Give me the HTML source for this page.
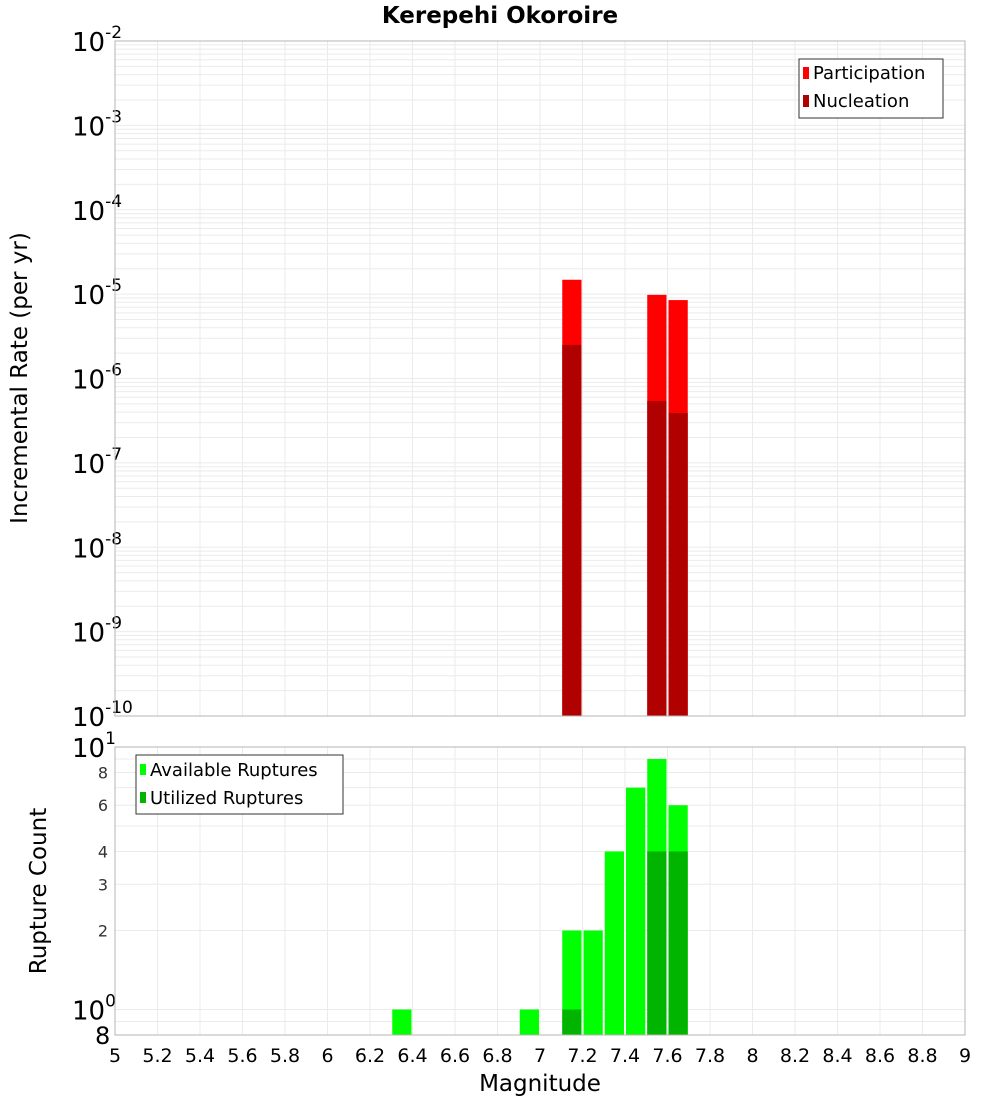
<!DOCTYPE html>
<html><head><meta charset="utf-8"><style>
body{margin:0;background:#fff;font-family:"DejaVu Sans","Liberation Sans",sans-serif;}
svg text{font-family:"DejaVu Sans","Liberation Sans",sans-serif;}
</style></head><body>
<svg id="chart" width="1000" height="1100" xmlns="http://www.w3.org/2000/svg">
<text x="500" y="23" text-anchor="middle" font-size="23" font-weight="bold">Kerepehi Okoroire</text>
<text transform="translate(27,378) rotate(-90)" text-anchor="middle" font-size="23">Incremental Rate (per yr)</text>
<text transform="translate(46,891) rotate(-90)" text-anchor="middle" font-size="23">Rupture Count</text>
<text x="540" y="1091" text-anchor="middle" font-size="23">Magnitude</text>
<g id="topPlot"></g><g id="botPlot"></g>
</svg>
<script>
const mags = [6.3, 6.9, 7.1, 7.2, 7.3, 7.4, 7.5, 7.6];
const partMags = [7.1, 7.5, 7.6];
const participation = [1.48e-5, 9.8e-6, 8.5e-6];
const nucleation = [2.5e-6, 5.4e-7, 3.9e-7];
const available = [1, 1, 2, 2, 4, 7, 9, 6];
const utilMags = [7.1, 7.5, 7.6];
const utilized = [1, 4, 4];
const xTicks = [5,5.2,5.4,5.6,5.8,6,6.2,6.4,6.6,6.8,7,7.2,7.4,7.6,7.8,8,8.2,8.4,8.6,8.8,9];
const topExps = [-2,-3,-4,-5,-6,-7,-8,-9,-10];
const botTicks = [8,6,4,3,2];

const NS="http://www.w3.org/2000/svg";
const X0=115,X1=965;
const x=m=>X0+(m-5)/4*(X1-X0);
const T0=41,T1=716;
const yT=v=>T0+(-2-Math.log10(v))/8*(T1-T0);
const B0=747,B1=1035;
const yB=v=>B0+(1-Math.log10(v))*(1009.5-B0);
function el(p,tag,a,txt){const e=document.createElementNS(NS,tag);for(const k in a)e.setAttribute(k,a[k]);if(txt!=null)e.textContent=txt;p.appendChild(e);return e;}
const topG=document.getElementById('topPlot'),botG=document.getElementById('botPlot');

for(let d=-10;d<-2;d++)for(let k=1;k<10;k++){const yy=yT(k*Math.pow(10,d));
 const g=el(topG,'line',{x1:X0,x2:X1,y1:yy,y2:yy,stroke:'#ebebeb','stroke-width':1});
 
 }
xTicks.forEach(t=>{const l=el(topG,'line',{x1:x(t),x2:x(t),y1:T0,y2:T1,stroke:'#ebebeb'});
 
 });
topExps.forEach(e=>{const yy=yT(Math.pow(10,e));
 const t=el(topG,'text',{x:72,y:yy+10,'font-size':26});
 
 
 el(t,'tspan',{},'10');el(t,'tspan',{dy:-13,'font-size':17},String(e));});
partMags.forEach((m,i)=>{
 const r=el(topG,'rect',{x:x(m)+1,y:yT(participation[i]),width:x(m+0.1)-x(m)-2,height:T1-yT(participation[i]),fill:'#ff0000'});
 
 
 const n=el(topG,'rect',{x:x(m)+1,y:yT(nucleation[i]),width:x(m+0.1)-x(m)-2,height:T1-yT(nucleation[i]),fill:'#b00000'});
 
 });
el(topG,'rect',{x:X0,y:T0,width:X1-X0,height:T1-T0,fill:'none',stroke:'#b4b4b4'});
const lg=el(topG,'g',{});


el(lg,'rect',{x:799,y:59,width:144,height:59,fill:'#fff',stroke:'#333'});
el(lg,'rect',{x:803,y:67,width:6,height:12,fill:'#ff0000'});
el(lg,'text',{x:813,y:79,'font-size':18},'Participation');
el(lg,'rect',{x:803,y:95,width:6,height:12,fill:'#b00000'});
el(lg,'text',{x:813,y:107,'font-size':18},'Nucleation');

[0.8,0.9,2,3,4,5,6,7,8,9,1].forEach(v=>{const yy=yB(v);
 const g=el(botG,'line',{x1:X0,x2:X1,y1:yy,y2:yy,stroke:'#ebebeb'});
 
 });
xTicks.forEach(t=>{const l=el(botG,'line',{x1:x(t),x2:x(t),y1:B0,y2:B1,stroke:'#ebebeb'});
 
 
 const tl=el(botG,'text',{x:x(t),y:1062,'text-anchor':'middle','font-size':19},String(t));
 
 });
botTicks.forEach(v=>{const t=el(botG,'text',{x:108,y:yB(v)+6,'text-anchor':'end','font-size':16,fill:'#333'},String(v));
 
 });
[[10,1],[1,0]].forEach(([v,e])=>{const t=el(botG,'text',{x:72,y:yB(v)+10,'font-size':26});
 
 
 el(t,'tspan',{},'10');el(t,'tspan',{dy:-13,'font-size':17},String(e));});
{const t=el(botG,'text',{x:95,y:1044,'font-size':24},'8');
 
 }
mags.forEach((m,i)=>{const r=el(botG,'rect',{x:x(m)+1,y:yB(available[i]),width:x(m+0.1)-x(m)-2,height:B1-yB(available[i]),fill:'#00ff00'});
 
 });
utilMags.forEach((m,i)=>{const r=el(botG,'rect',{x:x(m)+1,y:yB(utilized[i]),width:x(m+0.1)-x(m)-2,height:B1-yB(utilized[i]),fill:'#00b400'});
 
 });
el(botG,'rect',{x:X0,y:B0,width:X1-X0,height:B1-B0,fill:'none',stroke:'#b4b4b4'});
const lg2=el(botG,'g',{});


el(lg2,'rect',{x:136,y:755,width:207,height:59,fill:'#fff',stroke:'#333'});
el(lg2,'rect',{x:140,y:764,width:6,height:11,fill:'#00ff00'});
el(lg2,'text',{x:150,y:776,'font-size':18},'Available Ruptures');
el(lg2,'rect',{x:140,y:792,width:6,height:11,fill:'#00b400'});
el(lg2,'text',{x:150,y:804,'font-size':18},'Utilized Ruptures');
</script>
</body></html>
